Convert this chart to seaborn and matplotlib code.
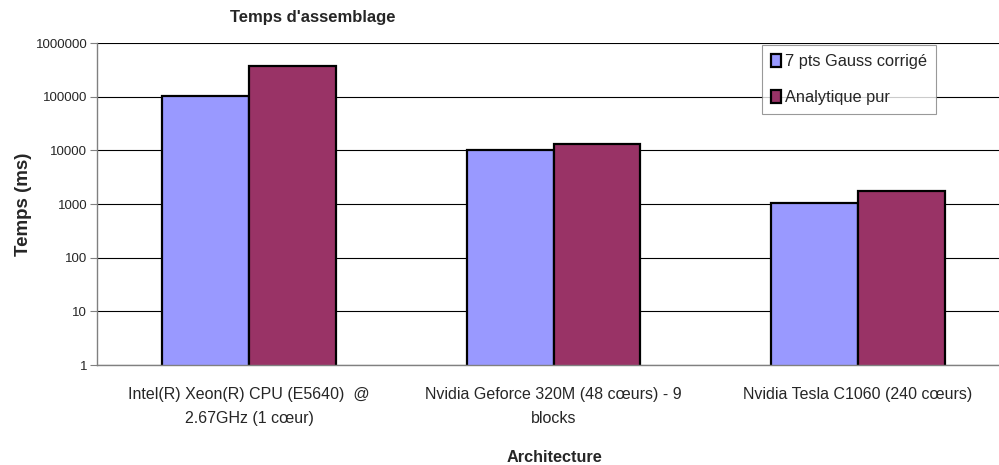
import matplotlib
matplotlib.use("Agg")
import matplotlib.pyplot as plt
import matplotlib.ticker as mticker
import seaborn as sns
import pandas as pd

# Data
architectures = [
    "Intel(R) Xeon(R) CPU (E5640)  @\n2.67GHz (1 cœur)",
    "Nvidia Geforce 320M (48 cœurs) - 9\nblocks",
    "Nvidia Tesla C1060 (240 cœurs)",
]
methods = ["7 pts Gauss corrigé", "Analytique pur"]
gauss_ms = [105000, 10000, 1050]
analytique_ms = [370000, 13000, 1750]
colors = ["#9999FF", "#993366"]

df = pd.DataFrame({
    "Architecture": architectures * 2,
    "Méthode": [methods[0]] * 3 + [methods[1]] * 3,
    "Temps": gauss_ms + analytique_ms,
})

sns.set_style("white")
plt.rcParams["font.family"] = ["Liberation Sans", "DejaVu Sans"]

fig = plt.figure(figsize=(9.99, 4.65), dpi=100)
ax = fig.add_axes([0.0971, 0.215, 0.914, 0.6925])

sns.barplot(data=df, x="Architecture", y="Temps", hue="Méthode",
            palette=colors, width=0.57, gap=0, edgecolor="black",
            linewidth=1.6, saturation=1, ax=ax)

ax.set_yscale("log")
ax.set_ylim(1, 1000000)
ax.set_xlim(-0.5, 2.5)
ax.yaxis.set_major_locator(mticker.LogLocator(base=10, numticks=10))
ax.yaxis.set_minor_locator(mticker.NullLocator())
ax.yaxis.set_major_formatter(mticker.FuncFormatter(lambda v, p: f"{int(round(v))}"))
ax.grid(axis="y", color="black", linewidth=0.8)
ax.set_axisbelow(True)

ax.set_xticks([0, 1, 2])
ax.set_xticklabels(architectures, fontsize=11.5, linespacing=1.75)
ax.set_xticks([-0.5, 0.5, 1.5, 2.5], minor=True)
ax.tick_params(axis="x", which="major", length=0, pad=16)
ax.tick_params(axis="x", which="minor", length=5, width=0.8, color="#808080", direction="out")
ax.tick_params(axis="y", length=5, width=0.8, color="#808080", direction="out",
               labelsize=9.5, pad=2, left=True)

for side in ["top", "right"]:
    ax.spines[side].set_visible(False)
for side in ["left", "bottom"]:
    ax.spines[side].set_color("#808080")
    ax.spines[side].set_linewidth(1.0)

ax.set_xlabel("")
ax.set_ylabel("")
fig.text(0.024, 0.561, "Temps (ms)", rotation=90, ha="center", va="center",
         fontsize=13.5, fontweight="bold")
fig.text(0.313, 0.962, "Temps d'assemblage", ha="center", va="center",
         fontsize=12, fontweight="bold")
fig.text(0.555, 0.017, "Architecture", ha="center", va="center",
         fontsize=11.7, fontweight="bold")

leg = ax.legend(loc="upper left", bbox_to_anchor=(762 / 999, 1 - 45 / 465),
                bbox_transform=fig.transFigure, frameon=True, fancybox=False,
                fontsize=11.8, handlelength=0.6, handleheight=0.8,
                handletextpad=0.25, labelspacing=1.3, borderpad=0.55,
                borderaxespad=0, title=None)
leg.get_frame().set_edgecolor("#808080")
leg.get_frame().set_linewidth(0.8)

fig.savefig("out.png", dpi=100)
